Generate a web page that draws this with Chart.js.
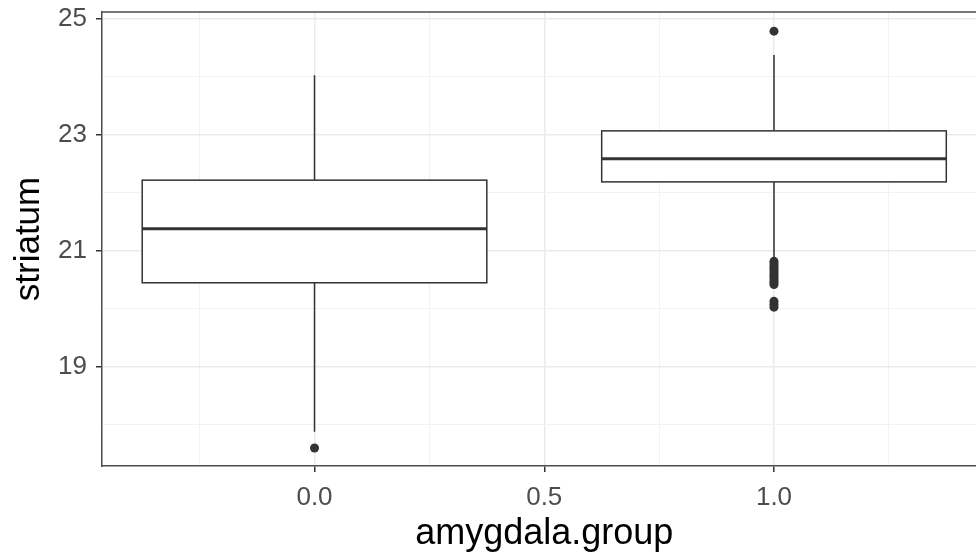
<!DOCTYPE html>
<html>
<head>
<meta charset="utf-8">
<script src="https://cdn.jsdelivr.net/npm/chart.js@4.4.1/dist/chart.umd.min.js"></script>
<style>
  html, body { margin: 0; padding: 0; background: #fff; overflow: hidden; }
  #wrap { width: 976px; height: 554px; overflow: hidden; }
</style>
</head>
<body>
<div id="wrap"><canvas id="myChart" width="991" height="554"></canvas></div>
<script>
// box statistics per group
const groups = [0, 1];
const q1 = [20.45, 22.19];
const medians = [21.38, 22.59];
const q3 = [22.22, 23.07];
const whiskerLow = [17.88, 20.86];
const whiskerHigh = [24.03, 24.38];
const outliers0 = [17.6];
const outliers1 = [24.79, 20.82, 20.78, 20.74, 20.7, 20.66, 20.62, 20.58, 20.54, 20.5, 20.46, 20.42, 20.13, 20.08, 20.03];
const yTicks = [19, 21, 23, 25];
const xTicks = [0, 0.5, 1];
const boxWidth = 0.75;

const dark = '#333333';
const fontFam = 'Liberation Sans, Arial, sans-serif';

let outlierPoints = [];
outliers0.forEach(v => outlierPoints.push({ x: groups[0], y: v }));
outliers1.forEach(v => outlierPoints.push({ x: groups[1], y: v }));

// draws boxes + whiskers with the chart scales
const boxPlugin = {
    id: 'boxes',
    beforeDatasetsDraw(chart) {
        let ctx = chart.ctx;
        let xs = chart.scales.x, ys = chart.scales.y;
        ctx.save();
        ctx.strokeStyle = dark;
        for (let i = 0; i < groups.length; i++) {
            let cx = xs.getPixelForValue(groups[i]);
            let left = xs.getPixelForValue(groups[i] - boxWidth / 2);
            let right = xs.getPixelForValue(groups[i] + boxWidth / 2);
            let yq1 = ys.getPixelForValue(q1[i]);
            let yq3 = ys.getPixelForValue(q3[i]);
            let ym = ys.getPixelForValue(medians[i]);
            ctx.lineWidth = 1.5;
            ctx.beginPath();
            ctx.moveTo(cx, yq3);
            ctx.lineTo(cx, ys.getPixelForValue(whiskerHigh[i]));
            ctx.moveTo(cx, yq1);
            ctx.lineTo(cx, ys.getPixelForValue(whiskerLow[i]));
            ctx.stroke();
            ctx.fillStyle = '#ffffff';
            ctx.fillRect(left, yq3, right - left, yq1 - yq3);
            ctx.strokeRect(left, yq3, right - left, yq1 - yq3);
            ctx.lineWidth = 3;
            ctx.beginPath();
            ctx.moveTo(left, ym);
            ctx.lineTo(right, ym);
            ctx.stroke();
        }
        // top panel border
        ctx.lineWidth = 1.5;
        ctx.strokeStyle = '#4d4d4d';
        ctx.beginPath();
        ctx.moveTo(chart.chartArea.left, chart.chartArea.top);
        ctx.lineTo(chart.chartArea.right, chart.chartArea.top);
        ctx.stroke();
        ctx.restore();
    }
};

let ctx = document.getElementById('myChart').getContext('2d');
var myChart = new Chart(ctx, {
    type: 'scatter',
    data: {
        datasets: [{
            label: 'outliers',
            data: outlierPoints,
            backgroundColor: dark,
            borderColor: dark,
            pointRadius: 4.5,
            borderWidth: 0
        }]
    },
    options: {
        responsive: false,
        animation: false,
        layout: { padding: { top: 12, right: 0, left: 0, bottom: 0 } },
        plugins: { legend: { display: false }, tooltip: { enabled: false } },
        scales: {
            x: {
                type: 'linear',
                min: -0.4625,
                max: 1.4625,
                afterBuildTicks: (s) => { s.ticks = [-0.25, 0, 0.25, 0.5, 0.75, 1, 1.25].map(v => ({ value: v })); },
                afterFit: (s) => { s.height = 88; s.paddingLeft = 0; s.paddingRight = 0; },
                ticks: {
                    color: '#4d4d4d',
                    font: { family: fontFam, size: 26 },
                    padding: 10,
                    maxRotation: 0,
                    autoSkip: false,
                    callback: (v) => xTicks.includes(v) ? v.toFixed(1) : ''
                },
                grid: {
                    color: (c) => xTicks.includes(c.tick.value) ? '#ebebeb' : '#f2f2f2',
                    lineWidth: (c) => xTicks.includes(c.tick.value) ? 1.5 : 1,
                    tickLength: 6,
                    tickColor: (c) => xTicks.includes(c.tick.value) ? dark : 'rgba(0,0,0,0)',
                    tickWidth: 1.5
                },
                border: { display: true, color: '#4d4d4d', width: 1.5 },
                title: {
                    display: true,
                    text: 'amygdala.group',
                    color: '#000',
                    font: { family: fontFam, size: 36, lineHeight: 1.1 },
                    padding: { top: 0, bottom: 0 }
                }
            },
            y: {
                type: 'linear',
                min: 17.29,
                max: 25.12,
                afterBuildTicks: (s) => { s.ticks = [18, 19, 20, 21, 22, 23, 24, 25].map(v => ({ value: v })); },
                afterFit: (s) => { s.width = 102; s.paddingTop = 0; s.paddingBottom = 0; },
                ticks: {
                    color: '#4d4d4d',
                    font: { family: fontFam, size: 26 },
                    padding: 9,
                    autoSkip: false,
                    callback: (v) => yTicks.includes(v) ? String(v) : ''
                },
                grid: {
                    color: (c) => yTicks.includes(c.tick.value) ? '#ebebeb' : '#f2f2f2',
                    lineWidth: (c) => yTicks.includes(c.tick.value) ? 1.5 : 1,
                    tickLength: 6,
                    tickColor: (c) => yTicks.includes(c.tick.value) ? dark : 'rgba(0,0,0,0)',
                    tickWidth: 1.5
                },
                border: { display: true, color: '#4d4d4d', width: 1.5 },
                title: {
                    display: true,
                    text: 'striatum',
                    color: '#000',
                    font: { family: fontFam, size: 35, lineHeight: 1.1 },
                    padding: { top: 10, bottom: 0 }
                }
            }
        }
    },
    plugins: [boxPlugin]
});
</script>
</body>
</html>
